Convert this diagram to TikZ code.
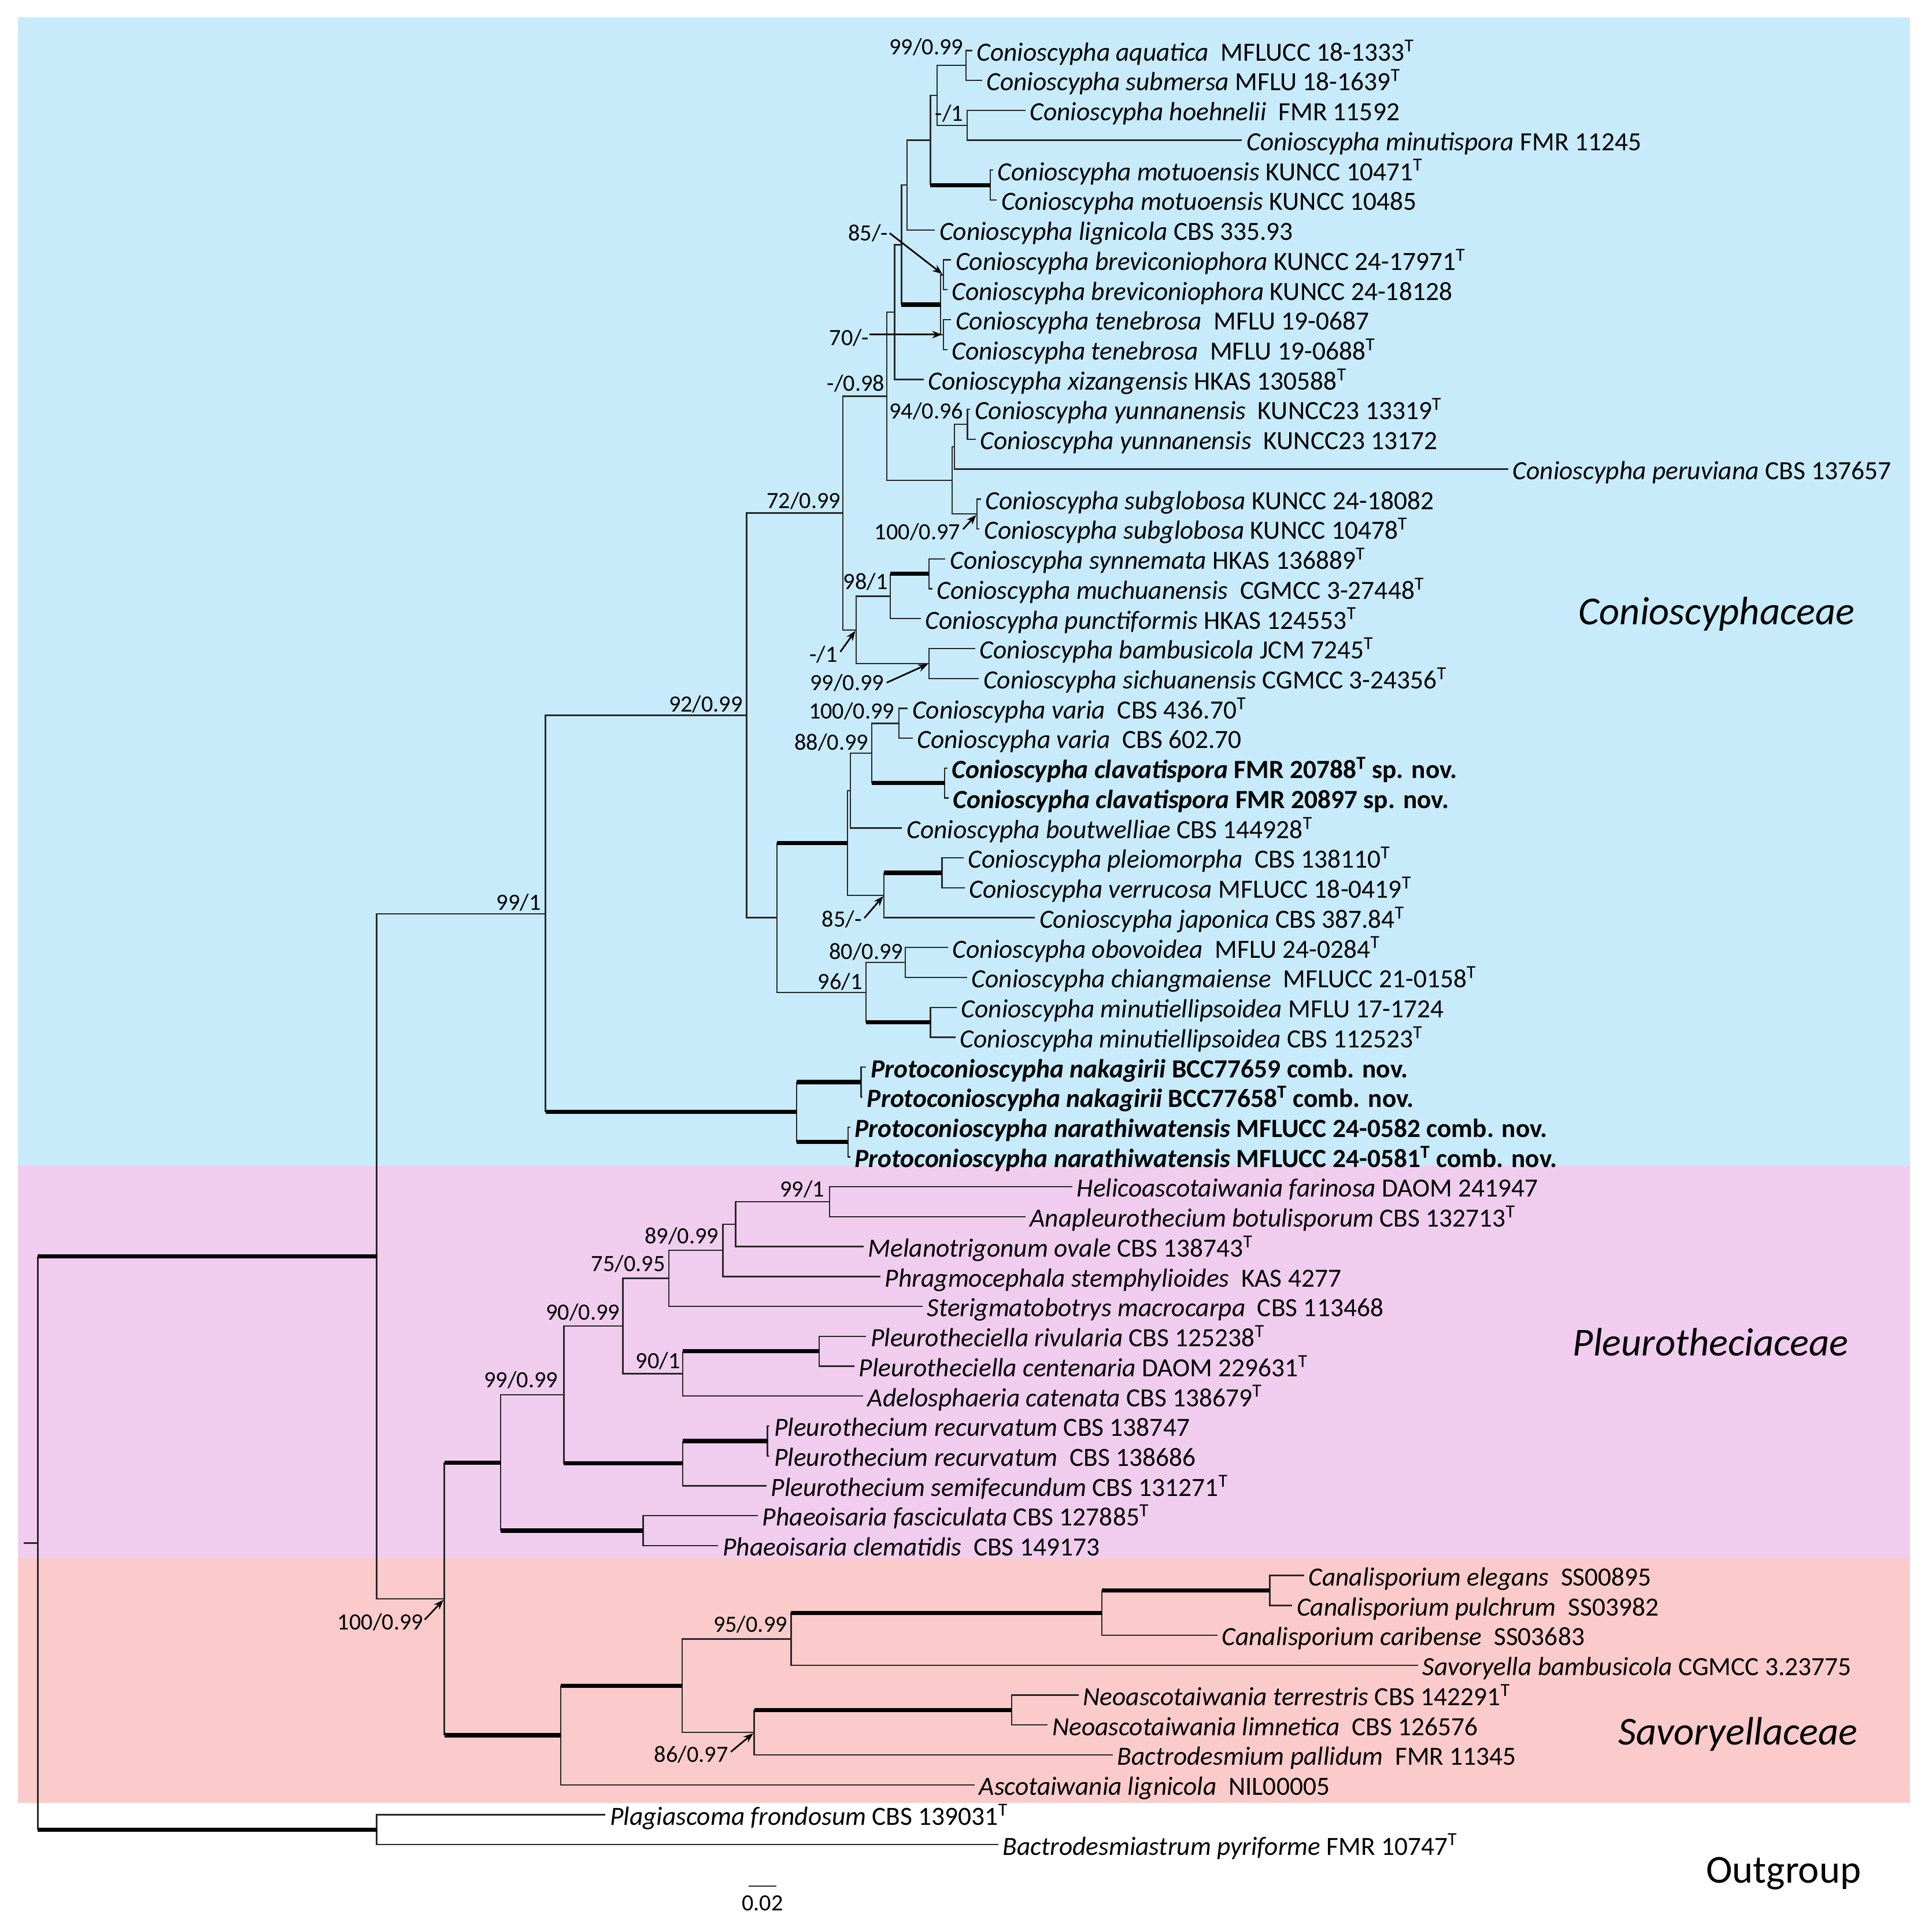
\documentclass[tikz,border=0pt]{standalone}
\usepackage{fontspec}
\setmainfont{Carlito}
\usetikzlibrary{arrows.meta}
\definecolor{bgblue}{RGB}{199,235,250}
\definecolor{bgpink}{RGB}{240,205,238}
\definecolor{bgsalmon}{RGB}{251,203,203}
\definecolor{lncol}{RGB}{40,40,40}
\newcommand\tb[2]{\draw[tl] (#1) |- (#2);}
\newcommand\kb[2]{\draw[tl] (#1) -- (#1 |- #2); \draw[tk] (#1 |- #2) -- (#2);}
\newcommand\leaf[4]{\coordinate (#1) at (#2,{40.8+(#3-1)*24.15}); \node[lf] (#1t) at (#1) {#4};}
\newcommand\Ty{\textsuperscript{T}}
\begin{document}
\begin{tikzpicture}[x=1pt,y=-1pt,
  tl/.style={draw=lncol, line width=1.1pt},
  tk/.style={draw=black, line width=3.4pt},
  lf/.style={anchor=base west, inner sep=0pt, xshift=3.5pt, yshift=-8.3pt, font=\fontsize{21.2}{24}\selectfont},
  sup/.style={anchor=base east, inner sep=0pt, yshift=-6pt, font=\fontsize{18.8}{22}\selectfont},
  fam/.style={anchor=base east, inner sep=0pt, yshift=-10pt, font=\fontsize{32}{36}\selectfont},
  arr/.style={draw=black, line width=1.3pt, -{Stealth[length=8pt,width=6pt]}, shorten >=1pt}]
\useasboundingbox (0,0) rectangle (1560.2,1555.1);
\fill[white] (0,0) rectangle (1560.2,1555.1);
% backgrounds
\fill[bgblue] (14.3,14) rectangle (1542.4,941.5);
\fill[bgpink] (14.3,941.5) rectangle (1542.4,1258.5);
\fill[bgsalmon] (14.3,1258.5) rectangle (1542.4,1456.2);
% leaves
\leaf{L1}{785}{1}{\textit{Conioscypha aquatica}~~MFLUCC 18-1333\Ty}
\leaf{L2}{793}{2}{\textit{Conioscypha submersa} MFLU 18-1639\Ty}
\leaf{L3}{828}{3}{\textit{Conioscypha hoehnelii}~~FMR 11592}
\leaf{L4}{1003}{4}{\textit{Conioscypha minutispora} FMR 11245}
\leaf{L5}{802}{5}{\textit{Conioscypha motuoensis} KUNCC 10471\Ty}
\leaf{L6}{805}{6}{\textit{Conioscypha motuoensis} KUNCC 10485}
\leaf{L7}{755}{7}{\textit{Conioscypha lignicola} CBS 335.93}
\leaf{L8}{768}{8}{\textit{Conioscypha breviconiophora} KUNCC 24-17971\Ty}
\leaf{L9}{765}{9}{\textit{Conioscypha breviconiophora} KUNCC 24-18128}
\leaf{L10}{768}{10}{\textit{Conioscypha tenebrosa}~~MFLU 19-0687}
\leaf{L11}{765}{11}{\textit{Conioscypha tenebrosa}~~MFLU 19-0688\Ty}
\leaf{L12}{746}{12}{\textit{Conioscypha xizangensis} HKAS 130588\Ty}
\leaf{L13}{783.5}{13}{\textit{Conioscypha yunnanensis}~~KUNCC23 13319\Ty}
\leaf{L14}{788}{14}{\textit{Conioscypha yunnanensis}~~KUNCC23 13172}
\leaf{L15}{1218}{15}{\textit{Conioscypha peruviana} CBS 137657}
\leaf{L16}{792}{16}{\textit{Conioscypha subglobosa} KUNCC 24-18082}
\leaf{L17}{791}{17}{\textit{Conioscypha subglobosa} KUNCC 10478\Ty}
\leaf{L18}{763.5}{18}{\textit{Conioscypha synnemata} HKAS 136889\Ty}
\leaf{L19}{753}{19}{\textit{Conioscypha muchuanensis}~~CGMCC 3-27448\Ty}
\leaf{L20}{743.5}{20}{\textit{Conioscypha punctiformis} HKAS 124553\Ty}
\leaf{L21}{787.5}{21}{\textit{Conioscypha bambusicola} JCM 7245\Ty}
\leaf{L22}{790.5}{22}{\textit{Conioscypha sichuanensis} CGMCC 3-24356\Ty}
\leaf{L23}{733}{23}{\textit{Conioscypha varia}~~CBS 436.70\Ty}
\leaf{L24}{737}{24}{\textit{Conioscypha varia}~~CBS 602.70}
\leaf{L25}{765}{25}{\textbf{\textit{Conioscypha clavatispora} FMR 20788\Ty{} sp. nov.}}
\leaf{L26}{766}{26}{\textbf{\textit{Conioscypha clavatispora} FMR 20897 sp. nov.}}
\leaf{L27}{728.5}{27}{\textit{Conioscypha boutwelliae} CBS 144928\Ty}
\leaf{L28}{778}{28}{\textit{Conioscypha pleiomorpha}~~CBS 138110\Ty}
\leaf{L29}{779}{29}{\textit{Conioscypha verrucosa} MFLUCC 18-0419\Ty}
\leaf{L30}{835.8}{30}{\textit{Conioscypha japonica} CBS 387.84\Ty}
\leaf{L31}{765.5}{31}{\textit{Conioscypha obovoidea}~~MFLU 24-0284\Ty}
\leaf{L32}{781}{32}{\textit{Conioscypha chiangmaiense}~~MFLUCC 21-0158\Ty}
\leaf{L33}{772.5}{33}{\textit{Conioscypha minutiellipsoidea} MFLU 17-1724}
\leaf{L34}{771.5}{34}{\textit{Conioscypha minutiellipsoidea} CBS 112523\Ty}
\leaf{L35}{699.5}{35}{\textbf{\textit{Protoconioscypha nakagirii} BCC77659 comb. nov.}}
\leaf{L36}{696.5}{36}{\textbf{\textit{Protoconioscypha nakagirii} BCC77658\Ty{} comb. nov.}}
\leaf{L37}{686.5}{37}{\textbf{\textit{Protoconioscypha narathiwatensis} MFLUCC 24-0582 comb. nov.}}
\leaf{L38}{686.5}{38}{\textbf{\textit{Protoconioscypha narathiwatensis} MFLUCC 24-0581\Ty{} comb. nov.}}
\leaf{L39}{866}{39}{\textit{Helicoascotaiwania farinosa} DAOM 241947}
\leaf{L40}{828}{40}{\textit{Anapleurothecium botulisporum} CBS 132713\Ty}
\leaf{L41}{697.4}{41}{\textit{Melanotrigonum ovale} CBS 138743\Ty}
\leaf{L42}{711}{42}{\textit{Phragmocephala stemphylioides}~~KAS 4277}
\leaf{L43}{745}{43}{\textit{Sterigmatobotrys macrocarpa}~~CBS 113468}
\leaf{L44}{699.5}{44}{\textit{Pleurotheciella rivularia} CBS 125238\Ty}
\leaf{L45}{690}{45}{\textit{Pleurotheciella centenaria} DAOM 229631\Ty}
\leaf{L46}{697}{46}{\textit{Adelosphaeria catenata} CBS 138679\Ty}
\leaf{L47}{621.5}{47}{\textit{Pleurothecium recurvatum} CBS 138747}
\leaf{L48}{621.5}{48}{\textit{Pleurothecium recurvatum}~~CBS 138686}
\leaf{L49}{619}{49}{\textit{Pleurothecium semifecundum} CBS 131271\Ty}
\leaf{L50}{612}{50}{\textit{Phaeoisaria fasciculata} CBS 127885\Ty}
\leaf{L51}{580}{51}{\textit{Phaeoisaria clematidis}~~CBS 149173}
\leaf{L52}{1053}{52}{\textit{Canalisporium elegans}~~SS00895}
\leaf{L53}{1043.5}{53}{\textit{Canalisporium pulchrum}~~SS03982}
\leaf{L54}{983}{54}{\textit{Canalisporium caribense}~~SS03683}
\leaf{L55}{1145}{55}{\textit{Savoryella bambusicola} CGMCC 3.23775}
\leaf{L56}{871}{56}{\textit{Neoascotaiwania terrestris} CBS 142291\Ty}
\leaf{L57}{846}{57}{\textit{Neoascotaiwania limnetica}~~CBS 126576}
\leaf{L58}{898.5}{58}{\textit{Bactrodesmium pallidum}~~FMR 11345}
\leaf{L59}{787}{59}{\textit{Ascotaiwania lignicola}~~NIL00005}
\leaf{L60}{489}{60}{\textit{Plagiascoma frondosum} CBS 139031\Ty}
\leaf{L61}{806}{61}{\textit{Bactrodesmiastrum pyriforme} FMR 10747\Ty}
% internal nodes: Conioscyphaceae
\coordinate (nAS) at (780,52.875);
\coordinate (nHM) at (781,101.175);
\coordinate (nAH) at (756.7,77.025);
\coordinate (nMo) at (799.6,149.475);
\coordinate (nUp) at (751.3,113.25);
\coordinate (nLig) at (732.5,149.475);
\coordinate (nBr) at (761.8,221.925);
\coordinate (nTe) at (761.8,270.225);
\coordinate (nBT) at (759.4,246.075);
\coordinate (nA728) at (728,197.775);
\coordinate (nA722) at (722.4,252.1125);
\coordinate (nYu) at (781.2,342.675);
\coordinate (nYP) at (770.8,360.7875);
\coordinate (nSg) at (789,415.125);
\coordinate (nYS) at (768.8,387.956);
\coordinate (nX) at (716,320.03);
\coordinate (nSM) at (750.3,463.425);
\coordinate (nP98) at (719,481.5375);
\coordinate (nBS) at (750.3,535.875);
\coordinate (nA691) at (691.3,508.706);
\coordinate (nA680) at (680.6,414.368);
\coordinate (nVa) at (726,584.175);
\coordinate (nCl) at (762.8,632.475);
\coordinate (nA704) at (704,608.325);
\coordinate (nA687) at (686.8,638.51);
\coordinate (nPV) at (760.7,704.925);
\coordinate (nA714) at (713.9,723.04);
\coordinate (nA684) at (684.3,680.775);
\coordinate (nOC) at (731,777.375);
\coordinate (nMi) at (751.4,825.675);
\coordinate (nA699) at (699.3,801.525);
\coordinate (nA627) at (627.4,741.15);
\coordinate (nA602) at (603,577.76);
\coordinate (nNa) at (695.3,873.975);
\coordinate (nNr) at (684.8,922.275);
\coordinate (nPr) at (643.2,898.125);
\coordinate (nA441) at (440.5,737.94);
% Pleurotheciaceae
\coordinate (nHA) at (670,970.575);
\coordinate (nB594) at (594,988.69);
\coordinate (nB584) at (583.8,1009.82);
\coordinate (nB540) at (540,1032.46);
\coordinate (nPt) at (661.5,1091.325);
\coordinate (nB551) at (551.4,1109.44);
\coordinate (nB503) at (503,1070.95);
\coordinate (nRe) at (619.8,1163.775);
\coordinate (nB551b) at (551.4,1181.89);
\coordinate (nB455) at (455.4,1126.42);
\coordinate (nPh) at (519.3,1236.225);
\coordinate (nB404) at (404.2,1181.32);
% Savoryellaceae and deeper
\coordinate (nCa) at (1025.4,1284.525);
\coordinate (nC890) at (889.7,1302.64);
\coordinate (nC639) at (638.8,1323.77);
\coordinate (nNe) at (817,1381.125);
\coordinate (nC609) at (609,1399.24);
\coordinate (nC551) at (551,1361.5);
\coordinate (nC453) at (452.8,1401.5);
\coordinate (nD359) at (358.8,1291.41);
\coordinate (nD304) at (304.2,1014.68);
\coordinate (nOut) at (304.2,1477.725);
\coordinate (nRoot) at (30.5,1246.2);
\coordinate (rootstem) at (19,1246.2);
% edges
\tb{nAS}{L1} \tb{nAS}{L2}
\tb{nHM}{L3} \tb{nHM}{L4}
\tb{nAH}{nAS} \tb{nAH}{nHM}
\tb{nMo}{L5} \tb{nMo}{L6}
\tb{nUp}{nAH} \kb{nUp}{nMo}
\tb{nLig}{nUp} \tb{nLig}{L7}
\tb{nBr}{L8} \tb{nBr}{L9}
\tb{nTe}{L10} \tb{nTe}{L11}
\tb{nBT}{nBr} \tb{nBT}{nTe}
\tb{nA728}{nLig} \kb{nA728}{nBT}
\tb{nA722}{nA728} \tb{nA722}{L12}
\tb{nYu}{L13} \tb{nYu}{L14}
\tb{nYP}{nYu} \tb{nYP}{L15}
\tb{nSg}{L16} \tb{nSg}{L17}
\tb{nYS}{nYP} \tb{nYS}{nSg}
\tb{nX}{nA722} \tb{nX}{nYS}
\tb{nSM}{L18} \tb{nSM}{L19}
\kb{nP98}{nSM} \tb{nP98}{L20}
\tb{nBS}{L21} \tb{nBS}{L22}
\tb{nA691}{nP98} \tb{nA691}{nBS}
\tb{nA680}{nX} \tb{nA680}{nA691}
\tb{nVa}{L23} \tb{nVa}{L24}
\tb{nCl}{L25} \tb{nCl}{L26}
\tb{nA704}{nVa} \kb{nA704}{nCl}
\tb{nA687}{nA704} \tb{nA687}{L27}
\tb{nPV}{L28} \tb{nPV}{L29}
\kb{nA714}{nPV} \tb{nA714}{L30}
\tb{nA684}{nA687} \tb{nA684}{nA714}
\tb{nOC}{L31} \tb{nOC}{L32}
\tb{nMi}{L33} \tb{nMi}{L34}
\tb{nA699}{nOC} \kb{nA699}{nMi}
\kb{nA627}{nA684} \tb{nA627}{nA699}
\tb{nA602}{nA680} \tb{nA602}{nA627}
\tb{nNa}{L35} \tb{nNa}{L36}
\tb{nNr}{L37} \tb{nNr}{L38}
\kb{nPr}{nNa} \kb{nPr}{nNr}
\tb{nA441}{nA602} \kb{nA441}{nPr}
\tb{nHA}{L39} \tb{nHA}{L40}
\tb{nB594}{nHA} \tb{nB594}{L41}
\tb{nB584}{nB594} \tb{nB584}{L42}
\tb{nB540}{nB584} \tb{nB540}{L43}
\tb{nPt}{L44} \tb{nPt}{L45}
\kb{nB551}{nPt} \tb{nB551}{L46}
\tb{nB503}{nB540} \tb{nB503}{nB551}
\tb{nRe}{L47} \tb{nRe}{L48}
\kb{nB551b}{nRe} \tb{nB551b}{L49}
\tb{nB455}{nB503} \kb{nB455}{nB551b}
\tb{nPh}{L50} \tb{nPh}{L51}
\tb{nB404}{nB455} \kb{nB404}{nPh}
\tb{nCa}{L52} \tb{nCa}{L53}
\kb{nC890}{nCa} \tb{nC890}{L54}
\kb{nC639}{nC890} \tb{nC639}{L55}
\tb{nNe}{L56} \tb{nNe}{L57}
\kb{nC609}{nNe} \tb{nC609}{L58}
\tb{nC551}{nC639} \tb{nC551}{nC609}
\kb{nC453}{nC551} \tb{nC453}{L59}
\kb{nD359}{nB404} \kb{nD359}{nC453}
\tb{nD304}{nA441} \tb{nD304}{nD359}
\tb{nOut}{L60} \tb{nOut}{L61}
\kb{nRoot}{nD304} \kb{nRoot}{nOut}
\draw[tl] (rootstem) -- (nRoot);
% support values
\node[sup] (s1) at (778,38) {99/0.99};
\node[sup] (s2) at (778,92) {-/1};
\node[sup] (s3) at (717.4,188.4) {85/-};
\node[sup] (s4) at (702,273) {70/-};
\node[sup] (s5) at (714.5,310) {-/0.98};
\node[sup] (s6) at (778,332) {94/0.96};
\node[sup] (s7) at (775.7,429.6) {100/0.97};
\node[sup] (s8) at (679,404.6) {72/0.99};
\node[sup] (s9) at (717,470) {98/1};
\node[sup] (s10) at (676.6,528.6) {-/1};
\node[sup] (s11) at (714,551.5) {99/0.99};
\node[sup] (s12) at (722.5,574.5) {100/0.99};
\node[sup] (s13) at (701.5,599.5) {88/0.99};
\node[sup] (s14) at (696,742.6) {85/-};
\node[sup] (s15) at (729.5,768.5) {80/0.99};
\node[sup] (s16) at (696.5,793) {96/1};
\node[sup] (s17) at (600,569) {92/0.99};
\node[sup] (s18) at (437,729) {99/1};
\node[sup] (s19) at (666,960.5) {99/1};
\node[sup] (s20) at (580.5,998.4) {89/0.99};
\node[sup] (s21) at (537.3,1020.6) {75/0.95};
\node[sup] (s22) at (500.7,1060) {90/0.99};
\node[sup] (s23) at (549.5,1099.3) {90/1};
\node[sup] (s24) at (450.7,1114.7) {99/0.99};
\node[sup] (s25) at (342,1310.2) {100/0.99};
\node[sup] (s26) at (636,1312.3) {95/0.99};
\node[sup] (s27) at (588.2,1417) {86/0.97};
% arrows from support values to their nodes
\draw[arr] ([xshift=1pt]s3.east) -- (nBr);
\draw[arr] (s4.east |- nTe) -- (nTe);
\draw[arr] ([xshift=2pt,yshift=2pt]s7.east) -- (nSg);
\draw[arr] ([xshift=2pt,yshift=2pt]s10.east) -- (nA691);
\draw[arr] ([xshift=2pt]s11.east) -- (nBS);
\draw[arr] ([xshift=2pt,yshift=1pt]s14.east) -- (nA714);
\draw[arr] ([xshift=1pt,yshift=2pt]s25.east) -- (nD359);
\draw[arr] ([xshift=2pt,yshift=2pt]s27.east) -- (nC609);
% family labels
\node[fam] (fC) at (1498,494.5) {\itshape Conioscyphaceae};
\node[fam] (fP) at (1493,1085.2) {\itshape Pleurotheciaceae};
\node[fam] (fS) at (1500.5,1399) {\itshape Savoryellaceae};
\node[fam] (fO) at (1503,1510.5) {Outgroup};
% scale bar
\coordinate (sbL) at (604.6,1523.4);
\coordinate (sbR) at (626.9,1523.4);
\draw[tl] (sbL) -- (sbR);
\node[inner sep=0pt, font=\fontsize{18.8}{22}\selectfont] (sbT) at (615.7,1537) {0.02};
\end{tikzpicture}
\end{document}
